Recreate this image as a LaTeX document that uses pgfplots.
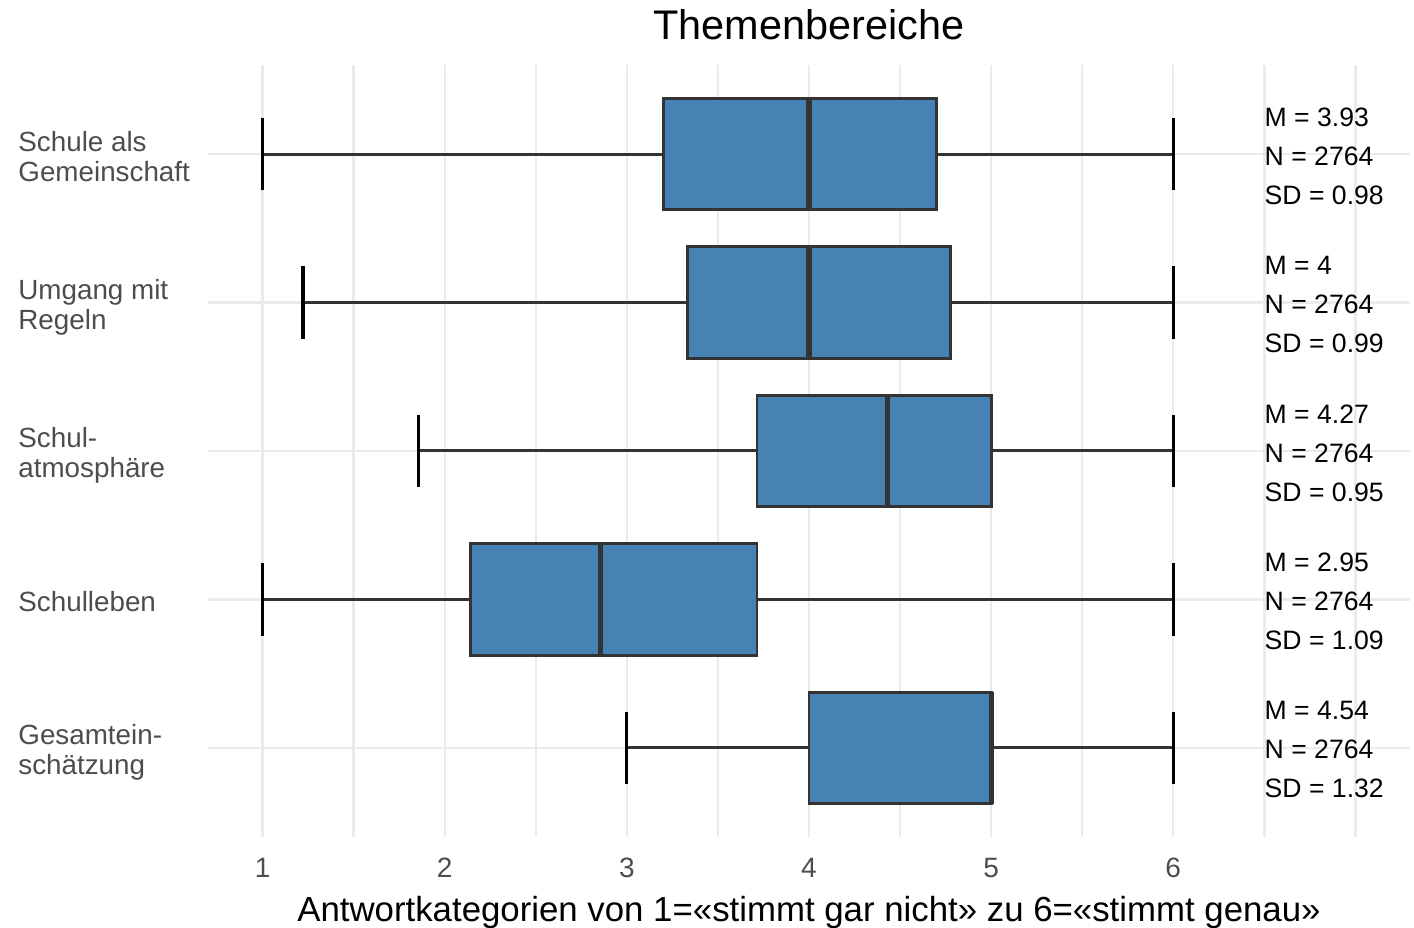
\documentclass[border=0pt]{standalone}
\usepackage{fontspec}
\setmainfont{Liberation Sans}
\usepackage{pgfplots}
\pgfplotsset{compat=1.18}
\usepgfplotslibrary{statistics}
\definecolor{steelblue}{RGB}{70,130,180}
\definecolor{boxline}{RGB}{51,51,51}
\definecolor{gridc}{RGB}{235,235,235}
\definecolor{axtext}{RGB}{77,77,77}
\begin{document}
\begin{tikzpicture}
\begin{axis}[
  name=ax,
  scale only axis,
  width=601pt, height=386pt,
  xmin=0.7, xmax=7.3,
  ymin=0.4, ymax=5.6,
  xtick={1,2,3,4,5,6,7},
  xticklabels={1,2,3,4,5,6,{}},
  minor x tick num=1,
  ytick={1,2,3,4,5},
  yticklabels={{\strut Gesamtein-\\schätzung\strut},{\strut Schulleben},{\strut Schul-\\atmosphäre\strut},{\strut Umgang mit\\Regeln\strut},{\strut Schule als\\Gemeinschaft\strut}},
  xmajorgrids, xminorgrids, ymajorgrids,
  major grid style={draw=gridc, line width=1.2pt},
  minor grid style={draw=gridc, line width=1.2pt},
  axis line style={draw=none},
  tick style={draw=none},
  major tick length=0pt, minor tick length=0pt,
  xticklabel style={font=\fontsize{14}{16}\selectfont, text=axtext, anchor=base, yshift=-20pt},
  yticklabel style={font=\fontsize{13.9}{15}\selectfont, text=axtext, anchor=west, align=left, inner sep=0pt, xshift=-95pt, yshift=-3pt},
  title={Themenbereiche},
  title style={font=\fontsize{20.7}{24}\selectfont, at={(axis description cs:0.5,1)}, anchor=base, yshift=6.5pt},
  xlabel={Antwortkategorien von 1=«stimmt gar nicht» zu 6=«stimmt genau»},
  xlabel style={font=\fontsize{17.4}{20}\selectfont, at={(axis description cs:0.5,0)}, anchor=base, yshift=-42pt},
  boxplot/box extend=0.75,
  boxplot/every median/.style={line width=2.6pt},
  boxplot/draw/lower whisker/.code={%
    \draw[boxline, line width=1.5pt]
      (boxplot box cs:\pgfplotsboxplotvalue{lower whisker},0.5) --
      (boxplot box cs:\pgfplotsboxplotvalue{lower quartile},0.5);
    \draw[black, line width=1.6pt]
      (boxplot box cs:\pgfplotsboxplotvalue{lower whisker},0.175) --
      (boxplot box cs:\pgfplotsboxplotvalue{lower whisker},0.825);
  },
  boxplot/draw/upper whisker/.code={%
    \draw[boxline, line width=1.5pt]
      (boxplot box cs:\pgfplotsboxplotvalue{upper whisker},0.5) --
      (boxplot box cs:\pgfplotsboxplotvalue{upper quartile},0.5);
    \draw[black, line width=1.6pt]
      (boxplot box cs:\pgfplotsboxplotvalue{upper whisker},0.175) --
      (boxplot box cs:\pgfplotsboxplotvalue{upper whisker},0.825);
  },
]
\addplot[boxplot prepared={draw position=5, lower whisker=1, lower quartile=3.2, median=4, upper quartile=4.7, upper whisker=6}, fill=steelblue, draw=boxline, line width=1.4pt] coordinates {};
\addplot[boxplot prepared={draw position=4, lower whisker=1.222, lower quartile=3.333, median=4, upper quartile=4.778, upper whisker=6}, fill=steelblue, draw=boxline, line width=1.4pt] coordinates {};
\addplot[boxplot prepared={draw position=3, lower whisker=1.857, lower quartile=3.714, median=4.429, upper quartile=5, upper whisker=6}, fill=steelblue, draw=boxline, line width=1.4pt] coordinates {};
\addplot[boxplot prepared={draw position=2, lower whisker=1, lower quartile=2.143, median=2.857, upper quartile=3.714, upper whisker=6}, fill=steelblue, draw=boxline, line width=1.4pt] coordinates {};
\addplot[boxplot prepared={draw position=1, lower whisker=3, lower quartile=4, median=5, upper quartile=5, upper whisker=6}, fill=steelblue, draw=boxline, line width=1.4pt] coordinates {};

\tikzset{ann/.style={anchor=west, align=left, inner sep=0pt, yshift=-1pt, font=\fontsize{13.3}{19.5}\selectfont}}
\node[ann] at (axis cs:6.5,5) {M = 3.93\\N = 2764\\SD = 0.98};
\node[ann] at (axis cs:6.5,4) {M = 4\\N = 2764\\SD = 0.99};
\node[ann] at (axis cs:6.5,3) {M = 4.27\\N = 2764\\SD = 0.95};
\node[ann] at (axis cs:6.5,2) {M = 2.95\\N = 2764\\SD = 1.09};
\node[ann] at (axis cs:6.5,1) {M = 4.54\\N = 2764\\SD = 1.32};
\end{axis}
\pgfresetboundingbox
\path ([xshift=-104pt,yshift=-45.5pt]ax.south west) rectangle ([xshift=2pt,yshift=32.5pt]ax.north east);
\end{tikzpicture}
\end{document}
